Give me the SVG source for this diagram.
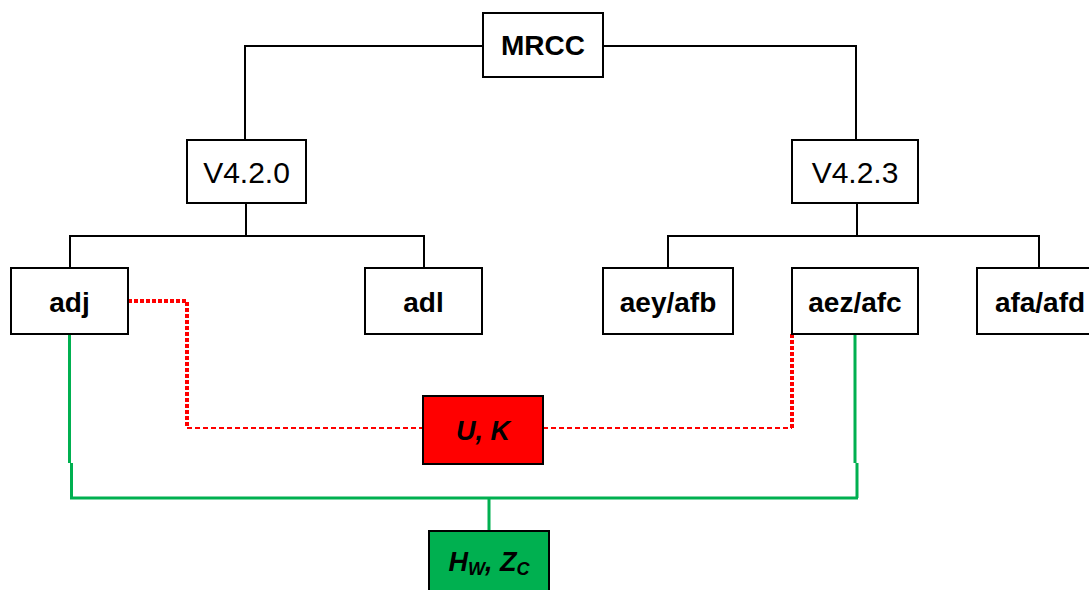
<svg xmlns="http://www.w3.org/2000/svg" width="1089" height="590" viewBox="0 0 1089 590">
<style>
.box{fill:#fff;stroke:#000;stroke-width:2}
.t{font-family:"Liberation Sans",Arial,sans-serif;font-size:28px;text-anchor:middle;fill:#000}
.r{font-size:30px}
.b{font-weight:bold}
.bi{font-weight:bold;font-style:italic;font-size:27px}
.ln{fill:none;stroke:#000;stroke-width:2}
.g{fill:none;stroke:#00b050;stroke-width:3}
.rthick{fill:none;stroke:#ff0000;stroke-width:4;stroke-dasharray:4 2}
.rthin{fill:none;stroke:#ff0000;stroke-width:2;stroke-dasharray:5 3}
</style>
<rect width="1089" height="590" fill="#fff"/>
<g id="connectors">
<path class="ln" d="M245,142 V46 H483 M603,46 H856 V142"/>
<path class="ln" d="M246,203 V236 M70,268 V236 H424 V268"/>
<path class="ln" d="M857,203 V236 M668,268 V236 H1039 V268"/>
<path class="rthick" d="M128,301 H187 V428"/>
<path class="rthin" d="M187,428 H423"/>
<path class="rthin" d="M543,428 H792"/>
<path class="rthick" d="M792,428 V334"/>
<path class="g" d="M69.5,334 V463 M71.5,463 V498 M70,498 H858 M855,334 V463 M857,463 V498 M489,498 V531"/>
</g>
<g id="MRCC"><rect class="box" x="483" y="13" width="120" height="64"/><text class="t b" x="543" y="55">MRCC</text></g>
<g id="V420"><rect class="box" x="187" y="140" width="119" height="63"/><text class="t r" x="246.5" y="183">V4.2.0</text></g>
<g id="V423"><rect class="box" x="792" y="140" width="126" height="63"/><text class="t r" x="855" y="183">V4.2.3</text></g>
<g id="adj"><rect class="box" x="11" y="268" width="117" height="66"/><text class="t b" x="69.5" y="312">adj</text></g>
<g id="adl"><rect class="box" x="365" y="268" width="117" height="66"/><text class="t b" x="423.5" y="312">adl</text></g>
<g id="aey"><rect class="box" x="603" y="268" width="130" height="66"/><text class="t b" x="668" y="312">aey/afb</text></g>
<g id="aez"><rect class="box" x="792" y="268" width="126" height="66"/><text class="t b" x="855" y="312">aez/afc</text></g>
<g id="afa"><rect class="box" x="977" y="268" width="130" height="66"/><text class="t b" x="1040" y="312">afa/afd</text></g>
<g id="UK"><rect x="423" y="396" width="120" height="68" fill="#ff0000" stroke="#000" stroke-width="2"/><text class="t bi" x="483" y="440">U, K</text></g>
<g id="HZ"><rect x="429" y="531" width="120" height="70" fill="#00b050" stroke="#000" stroke-width="2"/><text class="t bi" x="489" y="571">H<tspan font-size="18" dy="4">W</tspan><tspan dy="-4">, Z</tspan><tspan font-size="18" dy="4">C</tspan></text></g>
</svg>
